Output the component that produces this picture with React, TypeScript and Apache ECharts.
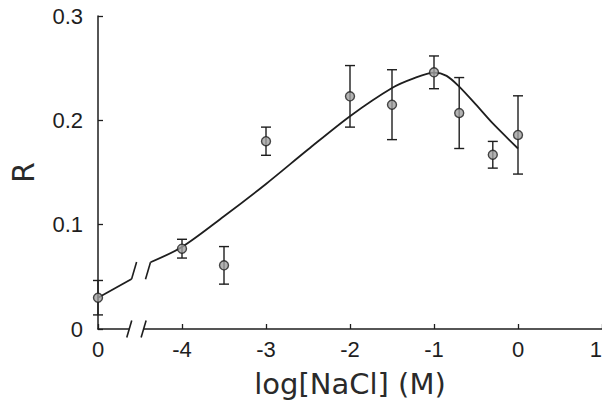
import React, { useEffect, useRef } from 'react';
import * as echarts from 'echarts';

// Axis ticks (left "0" is the salt-free control, placed at -5 on the log scale)
const xTickValues = [-5, -4, -3, -2, -1, 0, 1];
const xTickLabels = ['0', '-4', '-3', '-2', '-1', '0', '1'];
const yTickValues = [0, 0.1, 0.2, 0.3];
const yTickLabels = ['0', '0.1', '0.2', '0.3'];

// Measured points with error bars
const pointX = [-5, -4, -3.5, -3, -2, -1.5, -1, -0.7, -0.3, 0];
const pointY = [0.030, 0.077, 0.061, 0.180, 0.223, 0.215, 0.246, 0.207, 0.167, 0.186];
const pointErr = [0.0165, 0.009, 0.018, 0.0135, 0.0295, 0.0335, 0.0157, 0.034, 0.0128, 0.0375];

// Fitted curve (broken at the axis break)
const curveLeftX = [-5, -4.6];
const curveLeftY = [0.030, 0.048];
const curveX = [-4.375, -4, -3.5, -3, -2.5, -2, -1.5, -1.25, -1, -0.85, -0.7, -0.5, -0.3, 0];
const curveY = [0.064, 0.0786, 0.108, 0.139, 0.172, 0.204, 0.231, 0.240, 0.2457, 0.2426, 0.2323, 0.215, 0.197, 0.173];

// Axis break position
const axisBreak = [-4.628, -4.457];

const INK = '#1e1e1e';

export default function App() {
  const ref = useRef<HTMLDivElement>(null);
  useEffect(() => {
    if (!ref.current) return;
    const chart = echarts.init(ref.current, null, { renderer: 'svg' });
    const tickFont = { fontFamily: 'Liberation Sans, Arial, sans-serif', fontSize: 22, color: INK };
    const option: any = {
      animation: false,
      backgroundColor: '#ffffff',
      grid: { left: 98, right: 0, top: 16, bottom: 74, outerBoundsMode: 'none', containLabel: false },
      xAxis: {
        type: 'value',
        min: -5,
        max: 1,
        interval: 1,
        name: 'log[NaCl] (M)',
        nameLocation: 'middle',
        nameGap: 40,
        nameTextStyle: { fontFamily: 'DejaVu Sans, sans-serif', fontSize: 29, color: '#2a2a2a' },
        axisLine: { show: true, onZero: false, lineStyle: { color: INK, width: 1.5 } },
        axisTick: { show: true, inside: true, length: 5, lineStyle: { color: INK, width: 1.3 } },
        axisLabel: {
          ...tickFont,
          margin: 9,
          alignMaxLabel: 'right',
          formatter: (v: number) => {
            const i = xTickValues.indexOf(Math.round(v));
            return i >= 0 ? xTickLabels[i] : '';
          },
        },
        splitLine: { show: false },
      },
      yAxis: {
        type: 'value',
        min: 0,
        max: 0.3,
        interval: 0.1,
        name: 'R',
        nameLocation: 'middle',
        nameGap: 60,
        nameTextStyle: { fontFamily: 'DejaVu Sans, sans-serif', fontSize: 30, color: '#2a2a2a' },
        axisLine: { show: true, onZero: false, lineStyle: { color: INK, width: 1.5 } },
        axisTick: { show: true, inside: true, length: 5, lineStyle: { color: INK, width: 1.3 } },
        axisLabel: {
          ...tickFont,
          margin: 15,
          formatter: (v: number) => {
            const i = yTickValues.findIndex((t) => Math.abs(t - v) < 1e-9);
            return i >= 0 ? yTickLabels[i] : '';
          },
        },
        splitLine: { show: false },
      },
      series: [
        {
          type: 'line',
          data: curveLeftX.map((x, i) => [x, curveLeftY[i]]),
          showSymbol: false,
          symbol: 'none',
          lineStyle: { color: INK, width: 1.8 },
          z: 2,
        },
        {
          type: 'line',
          data: curveX.map((x, i) => [x, curveY[i]]),
          showSymbol: false,
          symbol: 'none',
          smooth: 0.3,
          lineStyle: { color: INK, width: 1.8 },
          z: 2,
        },
        {
          // slashes marking the break of the curve
          type: 'custom',
          clip: false,
          data: [
            [curveLeftX[1], curveLeftY[1], 1],
            [curveX[0], curveY[0], -1],
          ],
          encode: { x: 0, y: 1 },
          renderItem: (params: any, api: any) => {
            const p = api.coord([api.value(0), api.value(1)]);
            const d = api.value(2);
            return {
              type: 'line',
              shape: { x1: p[0], y1: p[1], x2: p[0] + 5 * d, y2: p[1] - 17 * d },
              style: { stroke: INK, lineWidth: 1.6 },
            };
          },
          z: 3,
        },
        {
          // axis break: gap in the x axis line plus two slashes
          type: 'custom',
          clip: false,
          data: [[axisBreak[0], axisBreak[1]]],
          encode: { x: [0, 1] },
          renderItem: (params: any, api: any) => {
            const a = api.coord([api.value(0), 0]);
            const b = api.coord([api.value(1), 0]);
            const sl = (p: number[]) => ({
              type: 'line',
              shape: { x1: p[0] - 2.5, y1: p[1] + 8.5, x2: p[0] + 2.5, y2: p[1] - 8.5 },
              style: { stroke: INK, lineWidth: 1.6 },
            });
            return {
              type: 'group',
              children: [
                {
                  type: 'rect',
                  shape: { x: a[0], y: a[1] - 3, width: b[0] - a[0], height: 6 },
                  style: { fill: '#ffffff' },
                },
                sl(a),
                sl(b),
              ],
            };
          },
          z: 5,
        },
        {
          // error bars
          type: 'custom',
          clip: false,
          data: pointX.map((x, i) => [x, pointY[i] - pointErr[i], pointY[i] + pointErr[i]]),
          encode: { x: 0, y: [1, 2] },
          renderItem: (params: any, api: any) => {
            const x = api.value(0);
            const lo = api.coord([x, api.value(1)]);
            const hi = api.coord([x, api.value(2)]);
            const w = 5;
            const style = { stroke: INK, lineWidth: 1.4 };
            return {
              type: 'group',
              children: [
                { type: 'line', shape: { x1: hi[0], y1: hi[1], x2: lo[0], y2: lo[1] }, style },
                { type: 'line', shape: { x1: hi[0] - w, y1: hi[1], x2: hi[0] + w, y2: hi[1] }, style },
                { type: 'line', shape: { x1: lo[0] - w, y1: lo[1], x2: lo[0] + w, y2: lo[1] }, style },
              ],
            };
          },
          z: 4,
        },
        {
          type: 'scatter',
          data: pointX.map((x, i) => [x, pointY[i]]),
          symbol: 'circle',
          symbolSize: 9,
          itemStyle: { color: '#a0a0a0', borderColor: INK, borderWidth: 1.4 },
          z: 6,
        },
      ],
    };
    chart.setOption(option);
    return () => chart.dispose();
  }, []);
  return (
    <div
      ref={ref}
      style={{ position: 'fixed', left: 0, top: 0, width: 602, height: 403, background: '#fff' }}
    />
  );
}
